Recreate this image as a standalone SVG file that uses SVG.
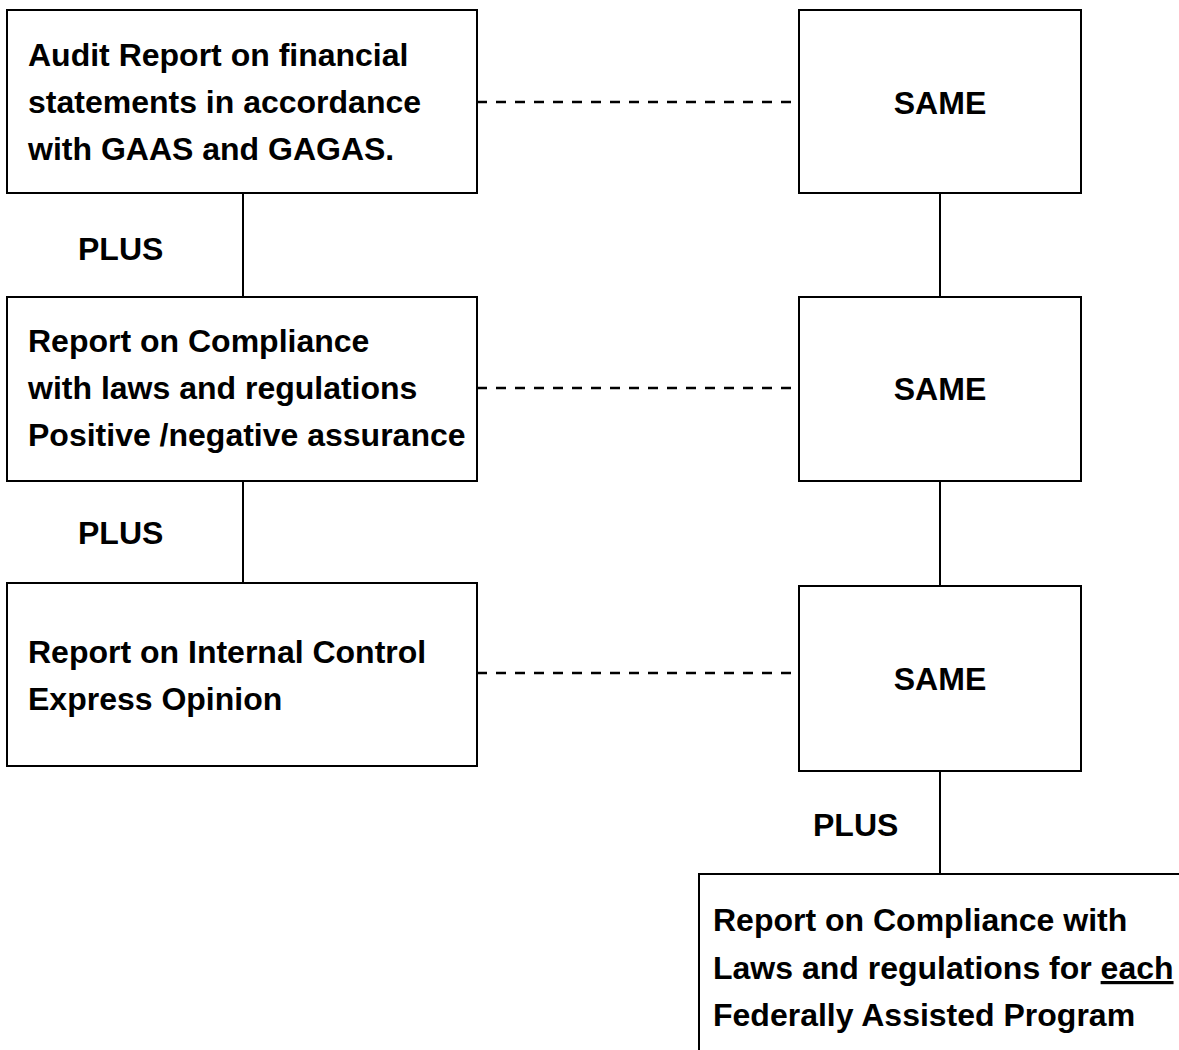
<svg xmlns="http://www.w3.org/2000/svg" width="1179" height="1050" viewBox="0 0 1179 1050">
<style>
.box{fill:#fff;stroke:#000;stroke-width:2}
.t{font-family:"Liberation Sans",Arial,sans-serif;font-weight:bold;font-size:32px;fill:#000}
.c{text-anchor:middle}
.solid{stroke:#000;stroke-width:2;fill:none}
.dash{stroke:#000;stroke-width:2.5;fill:none;stroke-dasharray:10 9}
</style>
<rect width="1179" height="1050" fill="#fff"/>
<g id="connectors">
<line class="solid" x1="243" y1="193" x2="243" y2="297"/>
<line class="solid" x1="243" y1="481" x2="243" y2="583"/>
<line class="solid" x1="940" y1="193" x2="940" y2="297"/>
<line class="solid" x1="940" y1="481" x2="940" y2="586"/>
<line class="solid" x1="940" y1="771" x2="940" y2="874"/>
<line class="dash" x1="477" y1="102" x2="799" y2="102"/>
<line class="dash" x1="477" y1="388" x2="799" y2="388"/>
<line class="dash" x1="477" y1="673" x2="799" y2="673"/>
<text class="t" x="78" y="260">PLUS</text>
<text class="t" x="78" y="544">PLUS</text>
<text class="t" x="813" y="836">PLUS</text>
</g>
<g id="left1">
<rect class="box" x="7" y="10" width="470" height="183"/>
<text class="t" x="28" y="66">Audit Report on financial</text>
<text class="t" x="28" y="113">statements in accordance</text>
<text class="t" x="28" y="160">with GAAS and GAGAS.</text>
</g>
<g id="left2">
<rect class="box" x="7" y="297" width="470" height="184"/>
<text class="t" x="28" y="352">Report on Compliance</text>
<text class="t" x="28" y="399">with laws and regulations</text>
<text class="t" x="28" y="446">Positive /negative assurance</text>
</g>
<g id="left3">
<rect class="box" x="7" y="583" width="470" height="183"/>
<text class="t" x="28" y="663">Report on Internal Control</text>
<text class="t" x="28" y="710">Express Opinion</text>
</g>
<g id="right1">
<rect class="box" x="799" y="10" width="282" height="183"/>
<text class="t c" x="940" y="114">SAME</text>
</g>
<g id="right2">
<rect class="box" x="799" y="297" width="282" height="184"/>
<text class="t c" x="940" y="400">SAME</text>
</g>
<g id="right3">
<rect class="box" x="799" y="586" width="282" height="185"/>
<text class="t c" x="940" y="690">SAME</text>
</g>
<g id="bottom">
<rect class="box" x="699" y="874" width="520" height="220"/>
<text class="t" x="713" y="931">Report on Compliance with</text>
<text class="t" x="713" y="979">Laws and regulations for <tspan text-decoration="underline">each</tspan></text>
<text class="t" x="713" y="1026">Federally Assisted Program</text>
</g>
</svg>
